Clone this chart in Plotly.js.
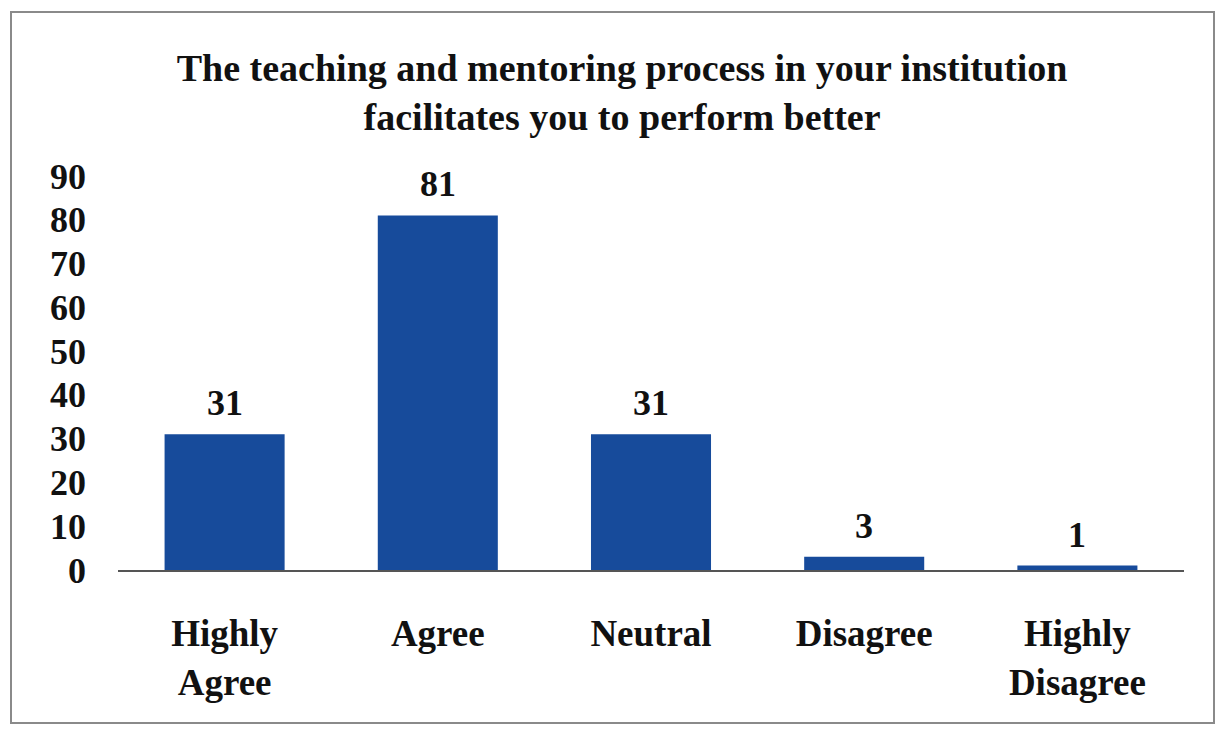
<!DOCTYPE html>
<html>
<head>
<meta charset="utf-8">
<script src="https://cdn.plot.ly/plotly-3.0.1.min.js"></script>
<style>
  html, body { margin: 0; padding: 0; background: #fff; }
  #wrap { position: relative; width: 1215px; height: 730px; }
  #frame { position: absolute; left: 10px; top: 11px; width: 1201px; height: 709px; border: 2px solid #8a8a8a; pointer-events: none; z-index: 5; }
  #chart { position: absolute; left: 0; top: 0; width: 1215px; height: 730px; }
</style>
</head>
<body>
<div id="wrap">
  <div id="chart"></div>
  <div id="frame"></div>
</div>
<script>
const categories = ["Highly<br>Agree", "Agree", "Neutral", "Disagree", "Highly<br>Disagree"];
const values = [31, 81, 31, 3, 1];
const yTicks = [0, 10, 20, 30, 40, 50, 60, 70, 80, 90];
const titleText = "The teaching and mentoring process in your institution<br>facilitates you to perform better";

const FONT = '"Liberation Serif", "Times New Roman", serif';
const barColor = '#174b9b';

const trace = {
  type: 'bar',
  x: categories,
  y: values,
  marker: { color: barColor },
  hoverinfo: 'none',
  showlegend: false
};

const annotations = categories.map((c, i) => ({
  x: c, y: values[i], xref: 'x', yref: 'y',
  text: '<b>' + String(values[i]) + '</b>',
  showarrow: false,
  yanchor: 'bottom',
  yshift: 9,
  font: { family: FONT, size: 36, color: '#111', weight: 'bold' }
}));

const layout = {
  width: 1215, height: 730,
  paper_bgcolor: 'rgba(0,0,0,0)', plot_bgcolor: 'rgba(0,0,0,0)',
  margin: { l: 118, r: 31, t: 176, b: 160, pad: 0 },
  bargap: 0.437,
  title: {
    text: titleText,
    x: 0.512, xref: 'container', xanchor: 'center',
    y: 0.889, yref: 'container', yanchor: 'middle',
    font: { family: FONT, size: 38, color: '#111', weight: 'bold' }
  },
  xaxis: {
    showline: true, linecolor: '#555', linewidth: 2,
    showgrid: false, zeroline: false, ticks: '',
    ticklabelstandoff: 30,
    tickfont: { family: FONT, size: 37, color: '#111', weight: 'bold' }
  },
  yaxis: {
    range: [0, 90], tickvals: yTicks, showgrid: false, zeroline: false,
    showline: false, ticks: '',
    ticklabelstandoff: 31,
    tickfont: { family: FONT, size: 36, color: '#111', weight: 'bold' }
  },
  annotations: annotations
};

Plotly.newPlot('chart', [trace], layout, { displayModeBar: false, staticPlot: true });
</script>
</body>
</html>
